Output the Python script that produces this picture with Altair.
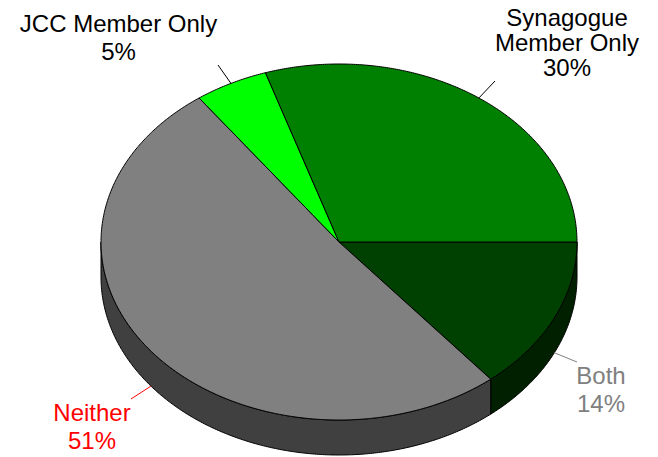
import math
import altair as alt
import pandas as pd

# Data
categories = ["Both", "Neither", "JCC Member Only", "Synagogue Member Only"]
shares = [14, 51, 5, 30]
top_colors = ["#004000", "#808080", "#00ff00", "#008000"]
side_colors = ["#002000", "#404040", "#008000", "#004000"]
label_lines = [["Both", "14%"], ["Neither", "51%"], ["JCC Member Only", "5%"], ["Synagogue", "Member Only", "30%"]]
label_colors = ["#808080", "#ff0000", "#000000", "#000000"]

# Layout (pixels inside the chart, origin is 8px into the page)
CX, CY, RX, RY, DEPTH = 331, 234, 238, 178, 35
label_centers = [593, 84, 110.5, 559]
label_baselines = [376, 413, 24, 18]
line_steps = [27.7, 27.7, 27.7, 25]
leader_ends = [(569, 354), (123, 391), (210, 57), (487, 73)]


def rim(deg, drop=0.0):
    a = math.radians(deg)
    return [CX + RX * math.cos(a), CY + RY * math.sin(a) + drop]


def arc(a0, a1, drop=0.0):
    n = max(2, int(abs(a1 - a0) * 2))
    return [rim(a0 + (a1 - a0) * i / n, drop) for i in range(n + 1)]


def feature(ring, fill):
    return {"type": "Feature", "properties": {"fill": fill},
            "geometry": {"type": "Polygon", "coordinates": [ring + [ring[0]]]}}


sides, tops, rules, texts = [], [], [], []
start = 0.0
total = sum(shares)
for share, top, side, lines, lcolor, cx, by, step, end in zip(
        shares, top_colors, side_colors, label_lines, label_colors,
        label_centers, label_baselines, line_steps, leader_ends):
    stop = start + 360.0 * share / total
    tops.append(feature([[CX, CY]] + arc(start, stop), top))
    if start < 180:
        vis = min(stop, 180)
        sides.append(feature(arc(start, vis) + arc(vis, start, DEPTH), side))
    mid = (start + stop) / 2
    p = rim(mid, DEPTH if mid < 180 else 0)
    rules.append({"x": p[0], "y": p[1], "x2": end[0], "y2": end[1], "c": lcolor})
    for i, line in enumerate(lines):
        texts.append({"t": line, "x": cx, "y": by + i * step, "c": lcolor})
    start = stop


def shapes(feats):
    return alt.Chart(alt.Data(values=feats)).mark_geoshape(
        stroke="#000000", strokeWidth=1, strokeJoin="round"
    ).encode(color=alt.Color("properties.fill:N", scale=None, legend=None)).project(
        type="identity", scale=1, translate=[0, 0])


side_layer = shapes(sides)
top_layer = shapes(tops)

rule_layer = alt.Chart(pd.DataFrame(rules)).mark_rule(strokeWidth=1).encode(
    x=alt.X("x:Q", scale=None, axis=None), x2="x2:Q",
    y=alt.Y("y:Q", scale=None, axis=None), y2="y2:Q",
    color=alt.Color("c:N", scale=None, legend=None))

text_layer = alt.Chart(pd.DataFrame(texts)).mark_text(
    font="Liberation Sans", fontSize=24, align="center", baseline="alphabetic"
).encode(
    x=alt.X("x:Q", scale=None, axis=None),
    y=alt.Y("y:Q", scale=None, axis=None),
    text="t:N",
    color=alt.Color("c:N", scale=None, legend=None))

chart = alt.layer(side_layer, top_layer, rule_layer, text_layer).resolve_scale(
    color="independent"
).properties(
    width=642, height=449, padding=0, autosize=alt.AutoSizeParams(type="none")
).configure_view(stroke=None)

chart.save("out.html", embed_options={"renderer": "svg", "actions": False})
